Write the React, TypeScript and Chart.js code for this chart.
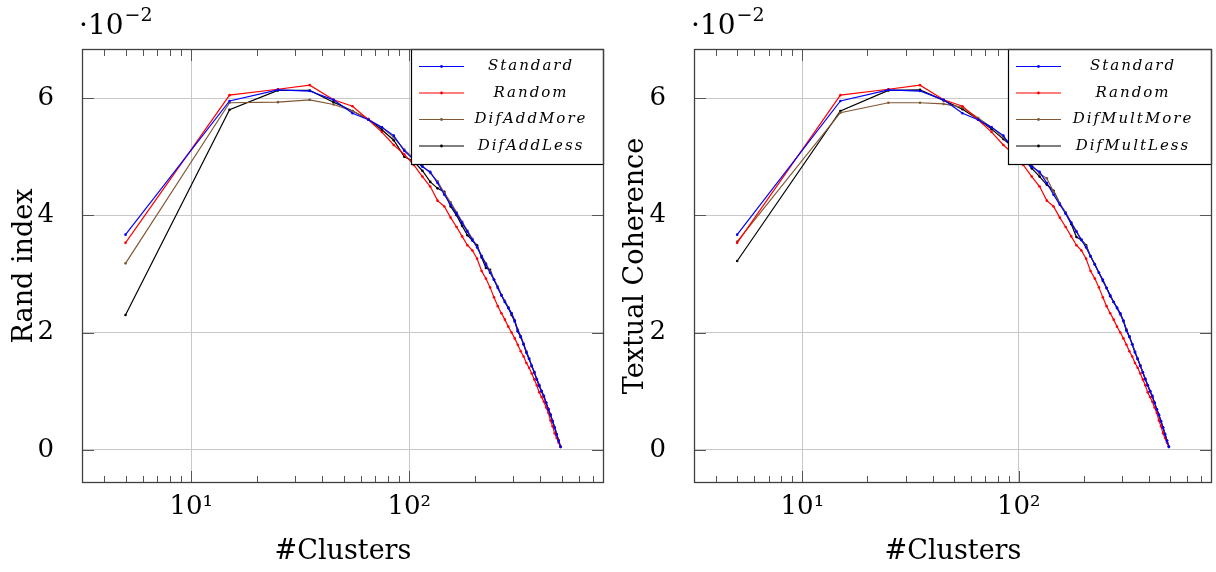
import React, { useEffect, useRef } from "react";
import { Chart, registerables } from "chart.js";

Chart.register(...registerables);

// #Clusters (x values)
const clusters = [5, 15, 25, 35, 45, 55, 65, 75, 85, 95, 105, 115, 125, 135, 145, 155, 165, 175, 185, 195, 205, 215, 225, 235, 245, 255, 265, 275, 285, 295, 305, 315, 325, 335, 345, 355, 365, 375, 385, 395, 405, 415, 425, 435, 445, 455, 465, 475, 485, 495];

// values in units of 10^-2
const randStandard = [3.67, 5.95, 6.14, 6.12, 5.97, 5.74, 5.63, 5.50, 5.36, 5.10, 4.95, 4.83, 4.74, 4.55, 4.35, 4.18, 4.03, 3.87, 3.72, 3.58, 3.45, 3.30, 3.16, 3.02, 2.90, 2.76, 2.63, 2.52, 2.42, 2.33, 2.20, 2.03, 1.93, 1.80, 1.66, 1.55, 1.43, 1.32, 1.20, 1.10, 1.00, 0.92, 0.80, 0.69, 0.60, 0.49, 0.38, 0.26, 0.15, 0.05];
const randRandom = [3.53, 6.05, 6.15, 6.22, 5.97, 5.86, 5.63, 5.42, 5.20, 5.04, 4.86, 4.66, 4.49, 4.25, 4.15, 3.96, 3.80, 3.64, 3.49, 3.40, 3.26, 3.05, 2.92, 2.77, 2.60, 2.45, 2.33, 2.22, 2.10, 2.00, 1.90, 1.79, 1.68, 1.59, 1.48, 1.40, 1.30, 1.20, 1.10, 0.98, 0.90, 0.82, 0.72, 0.63, 0.50, 0.40, 0.28, 0.20, 0.12, 0.05];
const randDifAddMore = [3.18, 5.92, 5.93, 5.97, 5.89, 5.78, 5.64, 5.50, 5.33, 5.12, 4.97, 4.84, 4.72, 4.58, 4.38, 4.22, 4.05, 3.89, 3.74, 3.60, 3.46, 3.31, 3.18, 3.04, 2.91, 2.78, 2.64, 2.54, 2.43, 2.33, 2.21, 2.05, 1.94, 1.81, 1.68, 1.56, 1.44, 1.33, 1.21, 1.11, 1.00, 0.91, 0.80, 0.70, 0.60, 0.49, 0.38, 0.27, 0.16, 0.05];
const randDifAddLess = [2.30, 5.80, 6.13, 6.13, 5.93, 5.78, 5.64, 5.46, 5.28, 5.00, 4.92, 4.76, 4.57, 4.46, 4.40, 4.15, 4.00, 3.82, 3.66, 3.57, 3.49, 3.28, 3.10, 3.07, 2.90, 2.78, 2.64, 2.52, 2.42, 2.30, 2.19, 2.02, 1.92, 1.80, 1.66, 1.55, 1.43, 1.32, 1.20, 1.09, 0.99, 0.90, 0.80, 0.69, 0.59, 0.48, 0.38, 0.27, 0.16, 0.05];

const cohStandard = randStandard;
const cohRandom = randRandom;
const cohDifMultMore = [3.55, 5.75, 5.92, 5.92, 5.90, 5.84, 5.66, 5.50, 5.33, 5.18, 4.98, 4.86, 4.71, 4.63, 4.40, 4.20, 4.05, 3.88, 3.73, 3.58, 3.47, 3.30, 3.17, 3.02, 2.90, 2.76, 2.64, 2.52, 2.42, 2.31, 2.19, 2.04, 1.93, 1.80, 1.67, 1.55, 1.44, 1.32, 1.21, 1.10, 1.00, 0.91, 0.80, 0.69, 0.59, 0.48, 0.37, 0.27, 0.16, 0.05];
const cohDifMultLess = [3.22, 5.78, 6.13, 6.14, 5.96, 5.81, 5.64, 5.47, 5.30, 5.15, 4.97, 4.80, 4.66, 4.52, 4.42, 4.20, 4.03, 3.85, 3.63, 3.58, 3.49, 3.30, 3.16, 3.02, 2.88, 2.76, 2.62, 2.52, 2.42, 2.31, 2.20, 2.05, 1.93, 1.80, 1.67, 1.55, 1.44, 1.32, 1.21, 1.10, 1.00, 0.90, 0.80, 0.69, 0.59, 0.48, 0.38, 0.27, 0.16, 0.05];

const xMajorTicks = [10, 100];
const xTickLabels = ["10\u00B9", "10\u00B2"];
const xMinorTicks = [4, 5, 6, 7, 8, 9, 20, 30, 40, 50, 60, 70, 80, 90, 200, 300, 400, 500, 600, 700];
const yTicks = [0, 2, 4, 6];

const COLORS = ["#0000ff", "#ff0000", "rgb(128,88,52)", "#000000"];
const FAMILY = '"DejaVu Serif", serif';

function decorPlugin(boxW: number, textCx: number) {
  return {
    id: "decor",
    afterDatasetsDraw(chart: any) {
      const { ctx, chartArea: a, scales } = chart;
      const xs = scales.x;
      const ys = scales.y;
      ctx.save();
      // tick marks inside
      ctx.strokeStyle = "#555";
      ctx.lineWidth = 1;
      const vline = (px: number, len: number) => {
        const x = Math.round(px) + 0.5;
        ctx.beginPath();
        ctx.moveTo(x, a.bottom);
        ctx.lineTo(x, a.bottom - len);
        ctx.moveTo(x, a.top);
        ctx.lineTo(x, a.top + len);
        ctx.stroke();
      };
      xMinorTicks.forEach((v) => vline(xs.getPixelForValue(v), 7));
      xMajorTicks.forEach((v) => vline(xs.getPixelForValue(v), 12));
      yTicks.forEach((v) => {
        const y = Math.round(ys.getPixelForValue(v)) + 0.5;
        ctx.beginPath();
        ctx.moveTo(a.left, y);
        ctx.lineTo(a.left + 12, y);
        ctx.moveTo(a.right, y);
        ctx.lineTo(a.right - 12, y);
        ctx.stroke();
      });
      // legend
      const right = a.right;
      const left = right - boxW;
      const top = a.top;
      const h = 116;
      ctx.fillStyle = "#fff";
      ctx.fillRect(left, top, boxW, h);
      ctx.strokeStyle = "#000";
      ctx.lineWidth = 1.2;
      ctx.strokeRect(left + 0.5, top + 0.5, boxW - 1, h - 1);
      chart.data.datasets.forEach((ds: any, i: number) => {
        const y = top + 17.5 + i * 26.5;
        ctx.strokeStyle = ds.borderColor;
        ctx.lineWidth = 1.2;
        ctx.beginPath();
        ctx.moveTo(left + 8, y);
        ctx.lineTo(left + 53, y);
        ctx.stroke();
        ctx.fillStyle = ds.borderColor;
        ctx.beginPath();
        ctx.arc(left + 30.5, y, 1.4, 0, Math.PI * 2);
        ctx.fill();
        ctx.fillStyle = "#000";
        ctx.font = `italic 15px ${FAMILY}`;
        (ctx as any).letterSpacing = "2px";
        ctx.textAlign = "center";
        ctx.textBaseline = "middle";
        ctx.fillText(ds.label, left + textCx, y);
        (ctx as any).letterSpacing = "0px";
      });
      // frame
      ctx.strokeStyle = "#404040";
      ctx.lineWidth = 1.3;
      ctx.strokeRect(a.left + 0.5, a.top + 0.5, a.right - a.left - 1, a.bottom - a.top - 1);
      // exponent label
      ctx.fillStyle = "#000";
      ctx.textAlign = "left";
      ctx.textBaseline = "alphabetic";
      ctx.font = `28px ${FAMILY}`;
      const base = "\u00B710";
      ctx.fillText(base, a.left - 3, 34);
      const w = ctx.measureText(base).width;
      ctx.font = `19px ${FAMILY}`;
      ctx.fillText("\u22122", a.left - 3 + w + 1, 21);
      ctx.restore();
    },
  };
}

function makeConfig(series: number[][], labels: string[], yTitle: string, yWidth: number, titlePad: number, boxW: number, textCx: number, padRight: number) {
  const font = { family: FAMILY, size: 26 };
  const titleFont = { family: FAMILY, size: 27 };
  return {
    type: "line",
    data: {
      datasets: series.map((vals, i) => ({
        label: labels[i],
        data: clusters.map((c, j) => ({ x: c, y: vals[j] })),
        borderColor: COLORS[i],
        backgroundColor: COLORS[i],
        borderWidth: 1.2,
        pointRadius: 1.3,
        pointBorderWidth: 0,
        pointBackgroundColor: COLORS[i],
        tension: 0,
        fill: false,
      })),
    },
    options: {
      animation: false,
      responsive: false,
      devicePixelRatio: 1,
      events: [],
      layout: { padding: { top: 49, right: padRight, left: 0, bottom: 0 } },
      plugins: { legend: { display: false }, tooltip: { enabled: false } },
      scales: {
        x: {
          type: "logarithmic",
          min: 3.158,
          max: 783,
          afterBuildTicks: (s: any) => {
            s.ticks = xMajorTicks.map((v) => ({ value: v }));
          },
          afterFit: (s: any) => {
            s.height = 89;
          },
          ticks: {
            callback: (v: number) => xTickLabels[xMajorTicks.indexOf(v)] ?? "",
            font,
            color: "#000",
            padding: 9,
            maxRotation: 0,
            autoSkip: false,
          },
          grid: { color: "#c8c8c8", lineWidth: 1, drawTicks: false },
          border: { display: false },
          title: { display: true, text: "#Clusters", font: titleFont, color: "#000", padding: { top: 0, bottom: 4 } },
        },
        y: {
          type: "linear",
          min: -0.567,
          max: 6.837,
          afterBuildTicks: (s: any) => {
            s.ticks = yTicks.map((v) => ({ value: v }));
          },
          afterFit: (s: any) => {
            s.width = yWidth;
          },
          ticks: { font, color: "#000", padding: 28 },
          grid: { color: "#c8c8c8", lineWidth: 1, drawTicks: false },
          border: { display: false },
          title: { display: true, text: yTitle, font: titleFont, color: "#000", padding: { top: titlePad, bottom: 0 } },
        },
      },
    },
    plugins: [decorPlugin(boxW, textCx)],
  } as any;
}

export default function App() {
  const leftRef = useRef<HTMLCanvasElement>(null);
  const rightRef = useRef<HTMLCanvasElement>(null);

  useEffect(() => {
    document.body.style.margin = "0";
    const c1 = new Chart(
      leftRef.current as HTMLCanvasElement,
      makeConfig(
        [randStandard, randRandom, randDifAddMore, randDifAddLess],
        ["Standard", "Random", "DifAddMore", "DifAddLess"],
        "Rand index",
        82,
        9,
        193,
        120,
        3
      )
    );
    const c2 = new Chart(
      rightRef.current as HTMLCanvasElement,
      makeConfig(
        [cohStandard, cohRandom, cohDifMultMore, cohDifMultLess],
        ["Standard", "Random", "DifMultMore", "DifMultLess"],
        "Textual Coherence",
        86,
        12,
        204,
        125,
        0
      )
    );
    return () => {
      c1.destroy();
      c2.destroy();
    };
  }, []);

  return (
    <div style={{ position: "absolute", left: 0, top: 0, width: 1216, height: 572, background: "#fff" }}>
      <canvas ref={leftRef} width={608} height={572} style={{ position: "absolute", left: 0, top: 0, width: 608, height: 572 }} />
      <canvas ref={rightRef} width={608} height={572} style={{ position: "absolute", left: 608, top: 0, width: 608, height: 572 }} />
    </div>
  );
}
